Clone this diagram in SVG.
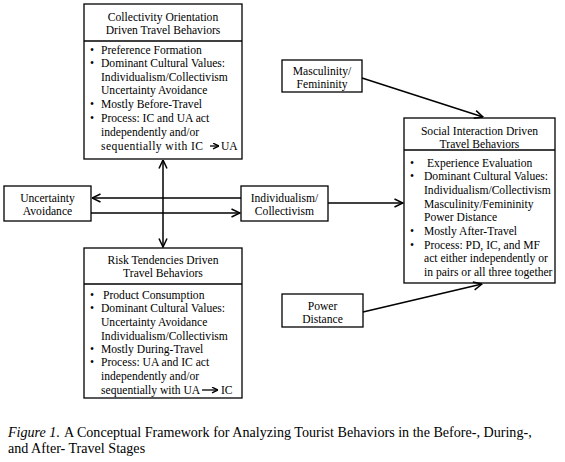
<svg xmlns="http://www.w3.org/2000/svg" width="565" height="462" viewBox="0 0 565 462">
<defs>
<marker id="ah" viewBox="0 0 10 10" refX="9.5" refY="5" markerWidth="10" markerHeight="10" markerUnits="userSpaceOnUse" orient="auto">
<path d="M1,1 L9.5,5 L1,9" fill="none" stroke="#000" stroke-width="1.5"/>
</marker>
<marker id="ahs" viewBox="0 0 10 10" refX="9.5" refY="5" markerWidth="7" markerHeight="7" markerUnits="userSpaceOnUse" orient="auto">
<path d="M1,1 L9.5,5 L1,9" fill="none" stroke="#000" stroke-width="2"/>
</marker>
</defs>
<style>
rect{fill:#fff;stroke:#000;stroke-width:1.3}
line.d{stroke:#000;stroke-width:1.3}
text{font-family:"Liberation Serif","Times New Roman",serif;font-size:11.6px;fill:#000}
.c{text-anchor:middle}
.cap{font-size:14.1px}
.it{font-style:italic}
.conn line{stroke:#000;stroke-width:1.5;fill:none}
</style>
<rect x="0" y="0" width="565" height="462" style="fill:#fff;stroke:none"/>

<g id="collectivity">
<rect x="84" y="4" width="158" height="155"/>
<line class="d" x1="84" y1="41" x2="242" y2="41"/>
<text class="c" x="163" y="21">Collectivity Orientation</text>
<text class="c" x="163" y="34">Driven Travel Behaviors</text>
<text x="90" y="54">•</text><text x="101" y="54">Preference Formation</text>
<text x="90" y="67">•</text><text x="101" y="67">Dominant Cultural Values:</text>
<text x="101" y="81">Individualism/Collectivism</text>
<text x="101" y="94">Uncertainty Avoidance</text>
<text x="90" y="108">•</text><text x="101" y="108">Mostly Before-Travel</text>
<text x="90" y="122">•</text><text x="101" y="122">Process: IC and UA act</text>
<text x="101" y="136">independently and/or</text>
<text x="101" y="150" textLength="102" lengthAdjust="spacing">sequentially with IC</text>
<line x1="210" y1="146" x2="219" y2="146" stroke="#000" stroke-width="1.3" marker-end="url(#ahs)"/>
<text x="221" y="150">UA</text>
</g>

<g id="risk">
<rect x="84" y="248" width="158" height="150"/>
<line class="d" x1="84" y1="284" x2="242" y2="284"/>
<text class="c" x="163" y="264">Risk Tendencies Driven</text>
<text class="c" x="163" y="277">Travel Behaviors</text>
<text x="90" y="299">•</text><text x="103" y="299">Product Consumption</text>
<text x="90" y="312">•</text><text x="101" y="312">Dominant Cultural Values:</text>
<text x="101" y="326">Uncertainty Avoidance</text>
<text x="101" y="340">Individualism/Collectivism</text>
<text x="90" y="353">•</text><text x="101" y="353">Mostly During-Travel</text>
<text x="90" y="366">•</text><text x="101" y="366">Process: UA and IC act</text>
<text x="101" y="380">independently and/or</text>
<text x="101" y="394">sequentially with UA</text>
<line x1="202" y1="390" x2="218" y2="390" stroke="#000" stroke-width="1.3" marker-end="url(#ahs)"/>
<text x="221" y="394">IC</text>
</g>

<g id="social">
<rect x="404" y="118" width="151" height="165"/>
<line class="d" x1="404" y1="150" x2="555" y2="150"/>
<text class="c" x="479.5" y="135">Social Interaction Driven</text>
<text class="c" x="479.5" y="148">Travel Behaviors</text>
<text x="410" y="167">•</text><text x="427" y="167">Experience Evaluation</text>
<text x="410" y="180">•</text><text x="424" y="180">Dominant Cultural Values:</text>
<text x="424" y="194">Individualism/Collectivism</text>
<text x="424" y="208">Masculinity/Femininity</text>
<text x="424" y="221">Power Distance</text>
<text x="410" y="235">•</text><text x="424" y="235">Mostly After-Travel</text>
<text x="410" y="249">•</text><text x="424" y="249">Process: PD, IC, and MF</text>
<text x="424" y="262">act either independently or</text>
<text x="424" y="276">in pairs or all three together</text>
</g>

<g id="uncertainty">
<rect x="4" y="186" width="87" height="35"/>
<text class="c" x="47.5" y="202">Uncertainty</text>
<text class="c" x="47.5" y="215">Avoidance</text>
</g>

<g id="individualism">
<rect x="241" y="186" width="87" height="35"/>
<text class="c" x="284.5" y="202">Individualism/</text>
<text class="c" x="284.5" y="215">Collectivism</text>
</g>

<g id="masculinity">
<rect x="282" y="60" width="80" height="32"/>
<text class="c" x="322" y="75">Masculinity/</text>
<text class="c" x="322" y="88">Femininity</text>
</g>

<g id="power">
<rect x="282" y="294" width="81" height="33"/>
<text class="c" x="322.5" y="310">Power</text>
<text class="c" x="322.5" y="323">Distance</text>
</g>

<g id="connectors" class="conn">
<line x1="163" y1="204" x2="163" y2="160" marker-end="url(#ah)"/>
<line x1="163" y1="204" x2="163" y2="247" marker-end="url(#ah)"/>
<line x1="241" y1="198" x2="92" y2="198" marker-end="url(#ah)"/>
<line x1="91" y1="213" x2="240" y2="213" marker-end="url(#ah)"/>
<line x1="328" y1="203" x2="403" y2="203" marker-end="url(#ah)"/>
<line x1="362" y1="78" x2="483" y2="117" marker-end="url(#ah)"/>
<line x1="363" y1="312" x2="482" y2="284" marker-end="url(#ah)"/>
</g>

<g id="caption">
<text class="cap it" x="8" y="437">Figure 1.</text>
<text class="cap" x="64" y="437">A Conceptual Framework for Analyzing Tourist Behaviors in the Before-, During-,</text>
<text class="cap" x="8" y="453">and After- Travel Stages</text>
</g>
</svg>
